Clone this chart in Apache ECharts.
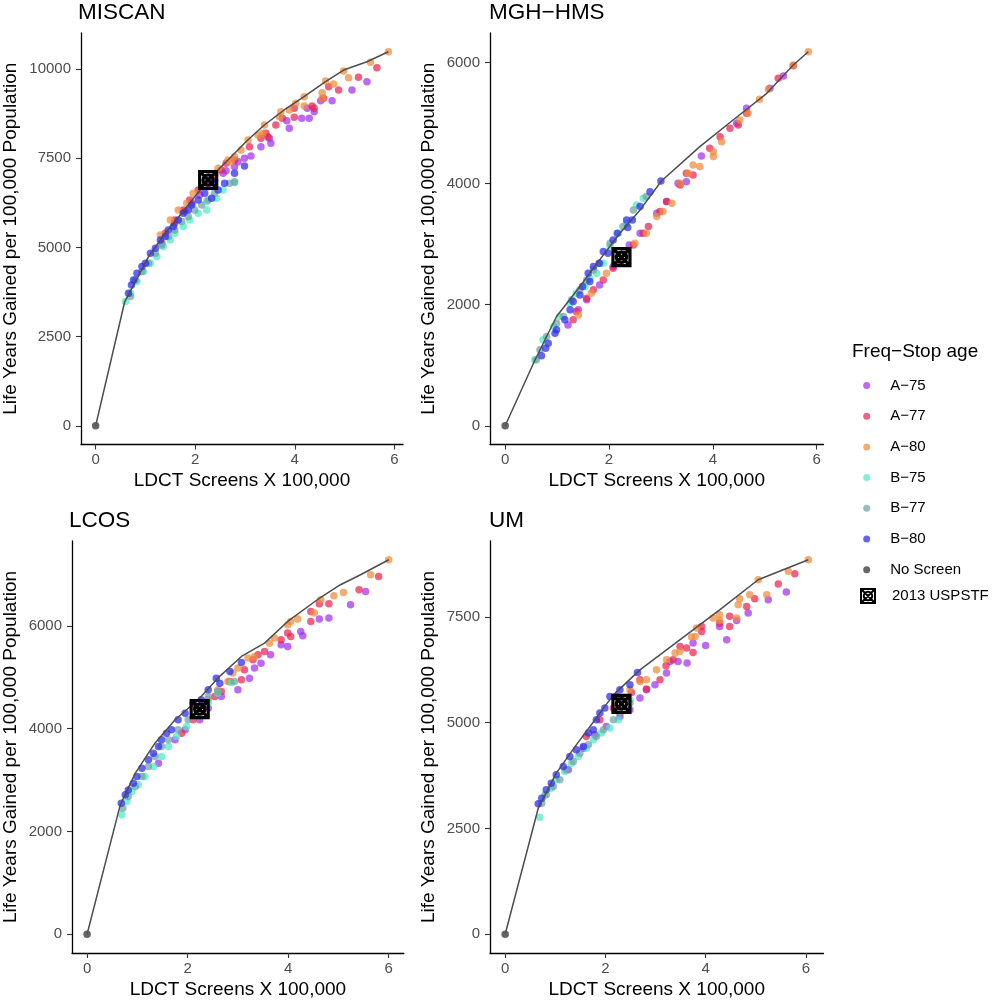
<!DOCTYPE html>
<html>
<head>
<meta charset="utf-8">
<script src="https://cdn.jsdelivr.net/npm/echarts@6/dist/echarts.min.js"></script>
<style>
html,body{margin:0;padding:0;background:#fff;}
#chart{width:996px;height:1001px;}
</style>
</head>
<body>
<div id="chart"></div>
<script>
// ---------------- DATA ----------------
const GROUPS = ['A−75','A−77','A−80','B−75','B−77','B−80'];
const X_TICKS = [0, 2, 4, 6];

// MISCAN
const MISCAN_A75 = [[5.45,9645],[5.15,9412],[4.75,9113],[4.52,9113],[4.39,8805],[4.25,8898],[4.29,8618],[4.14,8618],[3.89,8338],[3.84,8553],[3.52,7918],[3.49,8058],[3.32,7825],[3.12,7563],[2.99,7498],[2.86,7404],[2.79,7264],[2.62,7152],[2.56,7077],[2.39,6891],[2.26,6704],[2.09,6471],[1.93,6237],[1.79,6004],[1.59,5677],[1.33,5117]];
const MISCAN_A77 = [[5.65,10037],[5.28,9767],[4.88,9412],[4.68,9505],[4.58,9178],[4.39,8898],[4.35,8964],[3.99,8898],[3.99,8646],[3.75,8618],[3.62,8431],[3.42,8198],[3.46,8104],[3.32,8058],[3.09,7825],[2.79,7451],[2.62,7358],[2.52,7171],[2.39,7031],[2.26,6844],[2.06,6611],[1.89,6330],[1.76,6050],[1.59,5770],[1.40,5397]];
const MISCAN_A80 = [[5.88,10486],[5.52,10187],[5.08,9757],[4.98,9944],[4.78,9580],[4.62,9664],[4.55,9337],[4.55,9178],[4.19,9225],[4.19,8964],[4.02,9038],[3.89,8852],[3.69,8665],[3.72,8805],[3.39,8431],[3.36,8198],[3.26,8151],[3.06,8011],[2.92,7731],[2.79,7544],[2.72,7404],[2.66,7451],[2.46,7218],[2.39,7077],[2.13,6751],[1.96,6517],[1.83,6237],[1.66,6050],[1.50,5770],[1.30,5350]];
const MISCAN_B75 = [[2.79,6816],[2.56,6611],[2.43,6377],[2.23,6050],[2.23,6284],[2.06,5957],[1.89,5770],[1.76,5584],[1.59,5397],[1.50,5210],[1.36,5023],[1.23,4743],[1.10,4557],[0.96,4323],[0.83,4043],[0.70,3716],[0.60,3483]];
const MISCAN_B77 = [[2.79,6844],[2.69,6797],[2.39,6517],[2.26,6331],[2.13,6190],[1.99,6050],[1.86,5864],[1.73,5724],[1.59,5490],[1.46,5303],[1.33,5070],[1.20,4837],[1.06,4557],[0.93,4323],[0.80,4090],[0.70,3623]];
const MISCAN_B80 = [[2.99,7283],[2.79,7077],[2.59,6797],[2.39,6844],[2.46,6611],[2.33,6377],[2.19,6517],[2.06,6331],[1.93,6190],[1.86,6050],[1.76,5957],[1.66,5770],[1.56,5584],[1.46,5490],[1.40,5304],[1.30,5210],[1.20,4977],[1.10,4837],[1.00,4557],[0.93,4463],[0.83,4276],[0.76,4090],[0.72,3950],[0.66,3716]];
const MISCAN_FRONTIER = [[0,0],[0.585,3483],[1.063,4743],[1.395,5397],[1.728,5957],[1.993,6424],[2.259,6891],[2.658,7451],[3.056,8011],[3.389,8431],[3.787,8852],[4.186,9225],[4.618,9645],[4.983,9972],[5.449,10205],[5.880,10486]];
const MISCAN_USPSTF = [[2.26,6890]];
const MISCAN_Y_TICKS = [0, 2500, 5000, 7500, 10000];

// MGH-HMS
const MGH_A75 = [[5.36,5775],[5.10,5571],[4.65,5241],[4.46,4994],[3.78,4455],[3.49,4031],[3.33,4004],[3.11,3701],[2.92,3509],[2.60,3179],[2.39,2986],[2.08,2629],[1.82,2326],[1.57,2079],[1.41,1914],[1.21,1666]];
const MGH_A77 = [[5.55,5945],[5.26,5736],[4.65,5159],[4.49,4966],[4.33,4911],[4.14,4774],[3.94,4581],[3.62,4141],[3.49,4169],[3.37,3976],[3.11,3701],[2.98,3536],[2.76,3289],[2.66,3179],[2.47,2986],[2.21,2684],[2.08,2601],[1.89,2409],[1.70,2244],[1.57,2106],[1.37,1886],[1.31,1749]];
const MGH_A80 = [[5.84,6176],[5.55,5956],[5.07,5555],[4.90,5390],[4.68,5159],[4.52,5049],[4.17,4691],[4.01,4444],[4.01,4526],[3.75,4279],[3.62,4306],[3.53,4169],[3.37,4004],[3.21,3674],[3.04,3536],[2.92,3454],[2.72,3179],[2.50,3014],[2.34,2849],[1.95,2519],[1.66,2189],[1.41,1831]];
const MGH_B75 = [[2.66,3756],[2.53,3646],[2.34,3344],[2.18,3179],[2.02,2959],[1.89,2684],[1.76,2519],[1.63,2436],[1.54,2299],[1.37,2189],[1.25,2024],[1.05,1804],[0.93,1639],[0.73,1419],[0.57,1089]];
const MGH_B77 = [[2.72,3784],[2.47,3564],[2.27,3289],[2.02,3014],[1.82,2684],[1.70,2574],[1.57,2409],[1.44,2244],[1.28,2079],[1.12,1804],[0.99,1694],[0.80,1474],[0.67,1254],[0.60,1089]];
const MGH_B80 = [[3.00,4042],[2.79,3866],[2.60,3619],[2.45,3399],[2.34,3399],[2.36,3272],[2.16,3179],[2.08,3069],[1.98,2849],[1.89,2876],[1.81,2684],[1.70,2629],[1.60,2519],[1.63,2381],[1.49,2299],[1.44,2161],[1.31,2051],[1.25,1914],[1.15,1749],[0.99,1584],[0.96,1529],[0.83,1364],[0.78,1281],[0.70,1155]];
const MGH_FRONTIER = [[0,0],[0.57,1078],[0.99,1804],[1.44,2299],[1.82,2739],[2.21,3179],[2.60,3564],[3.01,4042],[3.75,4609],[4.39,5049],[5.04,5489],[5.55,5956],[5.84,6176]];
const MGH_USPSTF = [[2.24,2783]];
const MGH_Y_TICKS = [0, 2000, 4000, 6000];

// LCOS
const LCOS_A75 = [[5.54,6668],[5.24,6409],[4.81,6149],[4.62,6130],[4.29,5805],[4.25,5889],[3.99,5598],[3.86,5630],[3.65,5436],[3.46,5273],[3.33,5176],[3.23,4981],[3.00,4755],[2.67,4625],[2.41,4398],[2.24,4171],[1.95,3976],[1.75,3782],[1.42,3327]];
const LCOS_A77 = [[5.80,6960],[5.41,6700],[4.81,6428],[4.62,6428],[4.45,6279],[4.45,6084],[4.05,5792],[3.99,5857],[3.86,5727],[3.53,5500],[3.40,5436],[3.30,5338],[3.13,5144],[3.07,4949],[2.84,4917],[2.67,4722],[2.54,4625],[2.34,4463],[2.11,4171],[1.88,3911]];
const LCOS_A80 = [[6.00,7284],[5.64,6992],[5.10,6649],[4.91,6584],[4.65,6506],[4.52,6246],[4.19,6130],[4.05,6084],[3.99,6019],[3.73,5760],[3.63,5662],[3.33,5403],[3.20,5371],[3.00,5176],[2.90,5079],[2.80,4917],[2.60,4755],[2.41,4560],[2.21,4333]];
const LCOS_B75 = [[2.87,4897],[2.60,4689],[2.41,4495],[2.21,4300],[1.98,4041],[1.78,3846],[1.62,3652],[1.48,3457],[1.32,3262],[1.15,3068],[1.02,2906],[0.89,2776],[0.79,2582],[0.69,2322]];
const LCOS_B77 = [[2.93,4917],[2.60,4722],[2.41,4625],[2.21,4398],[2.01,4171],[1.81,3976],[1.62,3782],[1.48,3652],[1.35,3457],[1.22,3262],[1.09,3068],[0.96,2873],[0.82,2679],[0.71,2452]];
const LCOS_B80 = [[3.07,5286],[2.84,5111],[2.64,4884],[2.57,4981],[2.41,4755],[2.27,4560],[2.11,4495],[1.95,4300],[1.81,4171],[1.68,3976],[1.58,3911],[1.48,3782],[1.42,3652],[1.32,3522],[1.22,3392],[1.09,3230],[0.99,3068],[0.92,2938],[0.82,2808],[0.76,2711],[0.68,2549]];
const LCOS_FRONTIER = [[0,0],[0.66,2517],[0.96,3133],[1.35,3717],[1.75,4171],[2.21,4560],[2.60,4981],[3.07,5403],[3.53,5662],[3.99,6084],[4.58,6506],[5.04,6798],[5.44,6992],[6.00,7284]];
const LCOS_USPSTF = [[2.24,4378]];
const LCOS_Y_TICKS = [0, 2000, 4000, 6000];

// UM
const UM_A75 = [[5.61,8085],[5.25,7904],[4.85,7589],[4.62,7415],[4.42,6958],[4.28,7273],[4.00,6824],[3.75,6880],[3.63,6407],[3.45,6446],[3.29,6446],[3.22,6170],[2.99,5894],[2.82,5776],[2.69,5579],[2.49,5303],[2.29,5146],[2.02,4909],[1.79,4712],[1.56,4397],[1.26,3885]];
const UM_A77 = [[5.78,8518],[5.45,8274],[4.82,7746],[4.98,7927],[4.48,7510],[4.48,7273],[4.28,7352],[3.92,7273],[3.92,7155],[3.75,6659],[3.62,6761],[3.49,6801],[3.35,6485],[3.21,6344],[3.09,6011],[2.82,5792],[2.69,6011],[2.52,5713],[2.32,5579],[2.16,5343],[1.89,5067],[1.62,4673]];
const UM_A80 = [[6.05,8848],[5.65,8573],[5.22,8022],[5.05,8375],[4.88,8022],[4.68,7927],[4.65,7786],[4.62,7471],[4.28,7549],[4.28,7415],[4.15,7471],[3.82,7234],[3.79,7037],[3.72,7021],[3.49,6683],[3.39,6643],[3.22,6485],[3.02,6249],[2.82,6011],[2.69,5973],[2.49,5776],[2.26,5540]];
const UM_B75 = [[2.49,5540],[2.26,5067],[2.09,4870],[1.92,4752],[1.76,4594],[1.62,4397],[1.46,4200],[1.32,4043],[1.19,3846],[1.02,3649],[0.92,3452],[0.79,3294],[0.69,2766]];
const UM_B77 = [[2.49,5461],[2.29,5225],[2.16,5067],[1.96,4831],[1.82,4673],[1.66,4476],[1.49,4279],[1.36,4082],[1.22,3885],[1.09,3649],[0.96,3491],[0.82,3294],[0.73,3097]];
const UM_B80 = [[2.64,6186],[2.49,5894],[2.29,5776],[2.22,5618],[2.09,5618],[1.99,5343],[1.89,5225],[1.82,5067],[1.76,4830],[1.66,4752],[1.56,4437],[1.42,4358],[1.29,4200],[1.16,3964],[1.02,3767],[0.92,3570],[0.82,3412],[0.73,3215],[0.66,3081]];
const UM_FRONTIER = [[0,0],[0.66,2978],[1.02,3806],[1.42,4475],[1.89,5223],[2.16,5656],[2.69,6247],[3.22,6720],[3.75,7193],[4.28,7665],[5.05,8375],[6.05,8848]];
const UM_USPSTF = [[2.32,5445]];
const UM_Y_TICKS = [0, 2500, 5000, 7500];

const NO_SCREEN = [[0,0]];

// ---------------- STYLE / LAYOUT ----------------
const COLORS = ['#A030F0','#EA2252','#EE8A3A','#4AEDC4','#6FA3A3','#2A2AF0'];
const FONT = '"Liberation Sans", Arial, Helvetica, sans-serif';
const USPSTF_PATH = 'path://M0,0L20,0L20,20L0,20Z M0,0L20,20 M20,0L0,20 M4,10A6,6,0,1,1,16,10A6,6,0,1,1,4,10Z';

const panels = [
  {title:'MISCAN', groups:[MISCAN_A75,MISCAN_A77,MISCAN_A80,MISCAN_B75,MISCAN_B77,MISCAN_B80], frontier:MISCAN_FRONTIER, uspstf:MISCAN_USPSTF, yTicks:MISCAN_Y_TICKS,
   grid:{left:78.5, top:33, width:324.5, height:411.5}, titlePos:{left:78, top:1}, nameGap:61},
  {title:'MGH−HMS', groups:[MGH_A75,MGH_A77,MGH_A80,MGH_B75,MGH_B77,MGH_B80], frontier:MGH_FRONTIER, uspstf:MGH_USPSTF, yTicks:MGH_Y_TICKS,
   grid:{left:490, top:33, width:333.5, height:411.5}, titlePos:{left:489, top:1}, nameGap:52},
  {title:'LCOS', groups:[LCOS_A75,LCOS_A77,LCOS_A80,LCOS_B75,LCOS_B77,LCOS_B80], frontier:LCOS_FRONTIER, uspstf:LCOS_USPSTF, yTicks:LCOS_Y_TICKS,
   grid:{left:69.5, top:541, width:334.3, height:412}, titlePos:{left:69, top:509}, nameGap:52},
  {title:'UM', groups:[UM_A75,UM_A77,UM_A80,UM_B75,UM_B77,UM_B80], frontier:UM_FRONTIER, uspstf:UM_USPSTF, yTicks:UM_Y_TICKS,
   grid:{left:490, top:541, width:333.5, height:412}, titlePos:{left:489, top:509}, nameGap:52}
];

const grids = [], xAxes = [], yAxes = [], series = [], titles = [];
const plain = v => String(v);

panels.forEach((p, i) => {
  grids.push(Object.assign({containLabel:false}, p.grid));
  titles.push({text:p.title, left:p.titlePos.left, top:p.titlePos.top, padding:0,
    textStyle:{fontFamily:FONT, fontSize:22.5, fontWeight:'normal', color:'#000'}});

  // data extents with 5% expansion (ggplot style)
  let xs = [], ys = [];
  p.groups.concat([p.frontier, p.uspstf, NO_SCREEN]).forEach(arr => arr.forEach(d => {xs.push(d[0]); ys.push(d[1]);}));
  const xMin = Math.min(...xs), xMax = Math.max(...xs), yMin = Math.min(...ys), yMax = Math.max(...ys);
  const xr = xMax - xMin, yr = yMax - yMin;

  xAxes.push({
    type:'value', gridIndex:i, min:xMin - 0.05*xr, max:xMax + 0.05*xr,
    name:'LDCT Screens X 100,000', nameLocation:'middle', nameGap:27,
    nameTextStyle:{fontFamily:FONT, fontSize:19, color:'#000', verticalAlign:'top'},
    axisLine:{show:true, onZero:false, lineStyle:{color:'#000', width:1.3}},
    axisTick:{show:true, length:5, lineStyle:{color:'#333', width:1.1}, customValues:X_TICKS},
    axisLabel:{fontFamily:FONT, fontSize:15, color:'#4D4D4D', margin:8, customValues:X_TICKS, formatter:plain},
    splitLine:{show:false}
  });
  yAxes.push({
    type:'value', gridIndex:i, min:yMin - 0.05*yr, max:yMax + 0.05*yr,
    name:'Life Years Gained per 100,000 Population', nameLocation:'middle', nameGap:p.nameGap,
    nameTextStyle:{fontFamily:FONT, fontSize:19, color:'#000'},
    axisLine:{show:true, onZero:false, lineStyle:{color:'#000', width:1.3}},
    axisTick:{show:true, length:5, lineStyle:{color:'#333', width:1.1}, customValues:p.yTicks},
    axisLabel:{fontFamily:FONT, fontSize:15, color:'#4D4D4D', margin:10, customValues:p.yTicks, formatter:plain},
    splitLine:{show:false}
  });

  p.groups.forEach((g, k) => {
    series.push({
      type:'scatter', name:GROUPS[k], xAxisIndex:i, yAxisIndex:i, data:g,
      symbol:'circle', symbolSize:7.5,
      itemStyle:{color:COLORS[k], opacity:0.72}, emphasis:{disabled:true}, silent:true, z:2
    });
  });
  series.push({
    type:'line', name:'frontier', xAxisIndex:i, yAxisIndex:i, data:p.frontier,
    showSymbol:false, symbol:'none', lineStyle:{color:'#4D4D4D', width:1.5},
    emphasis:{disabled:true}, silent:true, z:3
  });
  series.push({
    type:'scatter', name:'No Screen', xAxisIndex:i, yAxisIndex:i, data:NO_SCREEN,
    symbol:'circle', symbolSize:7.5, itemStyle:{color:'#555', opacity:0.9}, silent:true, z:4
  });
  series.push({
    type:'scatter', name:'2013 USPSTF', xAxisIndex:i, yAxisIndex:i, data:p.uspstf,
    symbol:USPSTF_PATH, symbolSize:17,
    itemStyle:{color:'rgba(0,0,0,0)', borderColor:'#000', borderWidth:3.2, opacity:1}, silent:true, z:5
  });
});

titles.push({text:'Freq−Stop age', left:852, top:342, padding:0,
  textStyle:{fontFamily:FONT, fontSize:19, fontWeight:'normal', color:'#000'}});

const option = {
  animation:false,
  backgroundColor:'#fff',
  title:titles,
  grid:grids,
  xAxis:xAxes,
  yAxis:yAxes,
  legend:[
    {orient:'vertical', left:863.2, top:378, itemWidth:7, itemHeight:7, itemGap:15.7, padding:0,
     selectedMode:false, data:GROUPS.map(n=>({name:n, icon:'circle'})).concat([{name:'No Screen', icon:'circle'}]),
     textStyle:{fontFamily:FONT, fontSize:15, color:'#000', padding:[0,0,0,15]}},
    {orient:'vertical', left:860, top:588, itemWidth:14, itemHeight:14, padding:0,
     selectedMode:false, data:['2013 USPSTF'],
     textStyle:{fontFamily:FONT, fontSize:15, color:'#000', padding:[0,0,0,12]}}
  ],
  series:series
};

const chart = echarts.init(document.getElementById('chart'), null, {renderer:'canvas'});
chart.setOption(option);
</script>
</body>
</html>
